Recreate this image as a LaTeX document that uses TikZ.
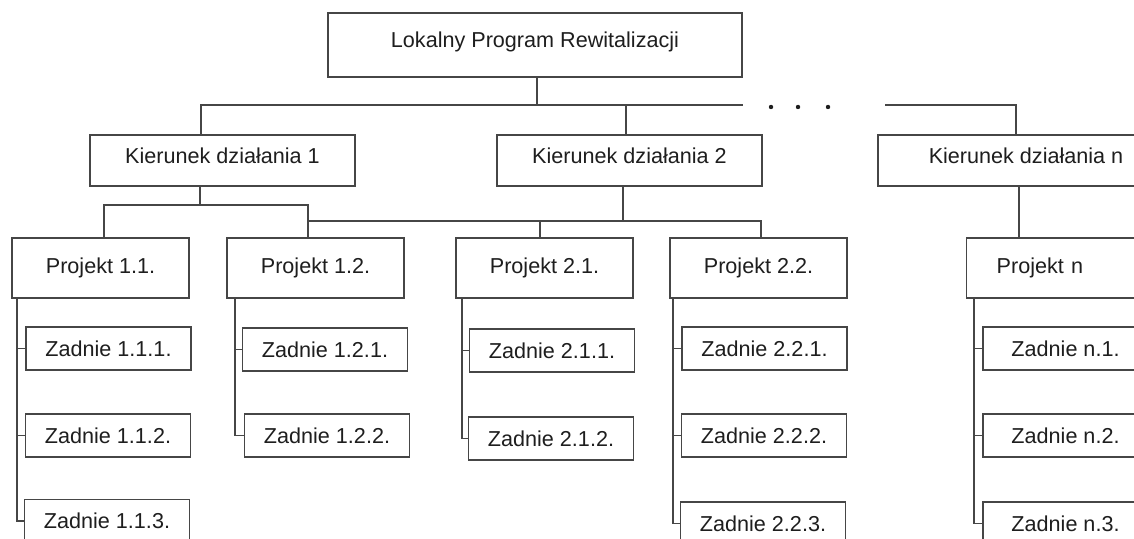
\documentclass[tikz,border=0pt]{standalone}
\usepackage{fontspec}
\setmainfont{Liberation Sans}
\usepackage{tikz}
\definecolor{linegrey}{RGB}{70,70,70}
\definecolor{inkblack}{RGB}{30,30,30}
\tikzset{
  base/.style={font=\fontsize{10.8}{13}\selectfont, text=inkblack, inner sep=0pt, align=center},
  box/.style={base, rectangle, draw=linegrey, fill=white, line width=0.7pt},
  topbox/.style={box, minimum width=207pt, minimum height=32pt, text height=8pt, text depth=5pt},
  kbox/.style={box, minimum width=132.5pt, minimum height=25.5pt, text height=8pt, text depth=5pt},
  pbox/.style={box, minimum width=88.5pt, minimum height=30pt},
  zbox/.style={box, minimum width=82.5pt, minimum height=21.5pt},
  link/.style={draw=linegrey, line width=0.7pt},
}

\begin{document}
\begin{tikzpicture}[x=0.5pt, y=-0.5pt]
  \useasboundingbox (0,0) rectangle (1134,539);
  \clip (0,0) rectangle (1134,539);
  % program and directions
  \node[topbox] (top) at (535,45) {Lokalny Program Rewitalizacji};
  \node[kbox] (k1) at (222.5,160.5) {Kierunek działania 1};
  \node[kbox] (k2) at (629.5,160.5) {Kierunek działania 2};
  \node[kbox, minimum width=148pt] (kn) at (1026,160.5) {Kierunek działania n};
  % projects
  \node[pbox] (p11) at (100.5,268) {Projekt 1.1.};
  \node[pbox] (p12) at (315.5,268) {Projekt 1.2.};
  \node[pbox] (p21) at (544.5,268) {Projekt 2.1.};
  \node[pbox] (p22) at (758.5,268) {Projekt 2.2.};
  \node[pbox, anchor=west, inner xsep=15pt, text width=58.5pt, align=left] (pn) at (966,268) {Projekt n};
  % tasks
  \node[zbox] (z111) at (108.5,348.5) {Zadnie 1.1.1.};
  \node[zbox] (z112) at (108,435.5) {Zadnie 1.1.2.};
  \node[zbox] (z113) at (107,521) {Zadnie 1.1.3.};
  \node[zbox] (z121) at (325,349.5) {Zadnie 1.2.1.};
  \node[zbox] (z122) at (327,435.5) {Zadnie 1.2.2.};
  \node[zbox] (z211) at (552,350.5) {Zadnie 2.1.1.};
  \node[zbox] (z212) at (551,438.5) {Zadnie 2.1.2.};
  \node[zbox] (z221) at (764.5,348.5) {Zadnie 2.2.1.};
  \node[zbox] (z222) at (764,435.5) {Zadnie 2.2.2.};
  \node[zbox] (z223) at (763,523.5) {Zadnie 2.2.3.};
  \node[zbox] (zn1) at (1065.5,348.5) {Zadnie n.1.};
  \node[zbox] (zn2) at (1065.5,435.5) {Zadnie n.2.};
  \node[zbox] (zn3) at (1065.5,523.5) {Zadnie n.3.};
  % top level bar
  \coordinate (j0) at (537,105);
  \coordinate (ja) at (201,105);
  \coordinate (jb) at (743,105);
  \coordinate (jk2) at (626,105);
  \coordinate (jc) at (885,105);
  \coordinate (jd) at (1016,105);
  \draw[link] (j0 |- top.south) -- (j0);
  \draw[link] (ja |- k1.north) -- (ja) -- (jb);
  \draw[link] (jk2) -- (jk2 |- k2.north);
  \draw[link] (jc) -- (jd) -- (jd |- kn.north);
  \foreach \x in {771,798,828}{\fill[inkblack] (\x,107) circle (2.2);}
  % direction to projects
  \coordinate (m1) at (200,205);
  \coordinate (m1a) at (104,205);
  \coordinate (m1b) at (308,205);
  \draw[link] (m1 |- k1.south) -- (m1);
  \draw[link] (m1a |- p11.north) -- (m1a) -- (m1b) -- (m1b |- p12.north);
  \coordinate (m2) at (623,221);
  \coordinate (m2a) at (308,221);
  \coordinate (m2b) at (761,221);
  \coordinate (m2c) at (540,221);
  \draw[link] (m2a) -- (m2b) -- (m2b |- p22.north);
  \draw[link] (m2 |- k2.south) -- (m2);
  \draw[link] (m2c) -- (m2c |- p21.north);
  \coordinate (mn) at (1019,0);
  \draw[link] (mn |- kn.south) -- (mn |- pn.north);
  % project spines
  \foreach \sx/\p/\zl/\zs in {17/p11/z113/{z111,z112}, 235/p12/z122/{z121}, 462/p21/z212/{z211}, 673/p22/z223/{z221,z222}, 974/pn/zn3/{zn1,zn2}}{
    \draw[link] (\p.south -| \sx,0) |- (\zl.west);
    \foreach \z in \zs {\draw[link] (\z.west -| \sx,0) -- (\z.west);}
  }
\end{tikzpicture}
\end{document}
